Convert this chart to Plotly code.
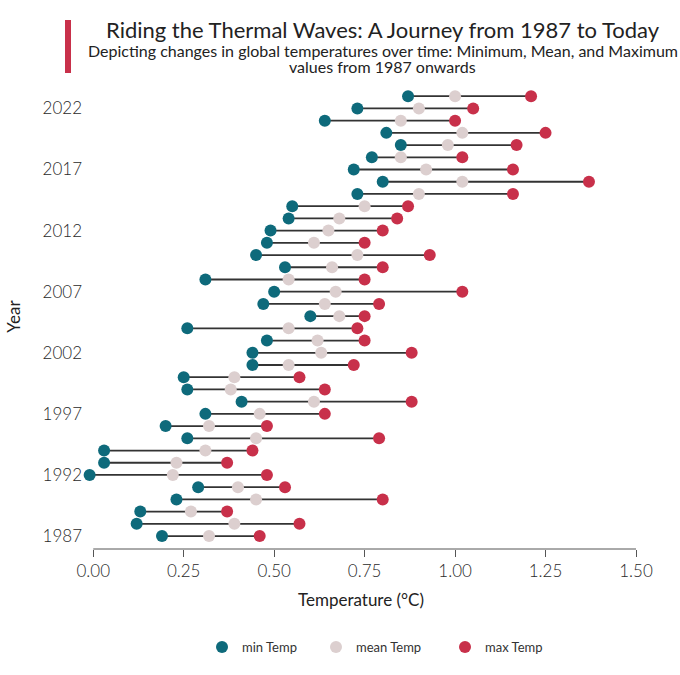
import plotly.graph_objects as go

years = list(range(1987, 2024))
min_temp = [0.19, 0.12, 0.13, 0.23, 0.29, -0.01, 0.03, 0.03, 0.26, 0.20,
            0.31, 0.41, 0.26, 0.25, 0.44, 0.44, 0.48, 0.26, 0.60, 0.47,
            0.50, 0.31, 0.53, 0.45, 0.48, 0.49, 0.54, 0.55, 0.73, 0.80,
            0.72, 0.77, 0.85, 0.81, 0.64, 0.73, 0.87]
mean_temp = [0.32, 0.39, 0.27, 0.45, 0.40, 0.22, 0.23, 0.31, 0.45, 0.32,
             0.46, 0.61, 0.38, 0.39, 0.54, 0.63, 0.62, 0.54, 0.68, 0.64,
             0.67, 0.54, 0.66, 0.73, 0.61, 0.65, 0.68, 0.75, 0.90, 1.02,
             0.92, 0.85, 0.98, 1.02, 0.85, 0.90, 1.00]
max_temp = [0.46, 0.57, 0.37, 0.80, 0.53, 0.48, 0.37, 0.44, 0.79, 0.48,
            0.64, 0.88, 0.64, 0.57, 0.72, 0.88, 0.75, 0.73, 0.75, 0.79,
            1.02, 0.75, 0.80, 0.93, 0.75, 0.80, 0.84, 0.87, 1.16, 1.37,
            1.16, 1.02, 1.17, 1.25, 1.00, 1.05, 1.21]
tick_years = [1987, 1992, 1997, 2002, 2007, 2012, 2017, 2022]
x_ticks = [0, 0.25, 0.5, 0.75, 1.0, 1.25, 1.5]
x_ticktext = ["0.00", "0.25", "0.50", "0.75", "1.00", "1.25", "1.50"]
series_names = ["min Temp", "mean Temp", "max Temp"]

c_min = "#0e6a7b"
c_mean = "#dccfcf"
c_max = "#c8304a"
font_fam = "Lato, 'Open Sans', sans-serif"

X0, X1 = -0.02, 1.5
L, T, B = 86, 84, 126
PW = 550
R = 680 - L - PW
PH = 675 - T - B

fig = go.Figure()

xs, ys = [], []
for y, a, b in zip(years, min_temp, max_temp):
    xs += [a, b, None]
    ys += [y, y, None]
fig.add_trace(go.Scatter(x=xs, y=ys, mode="lines",
                         line=dict(color="#333333", width=1.8),
                         showlegend=False, hoverinfo="skip"))

legend_ids = ["legend", "legend2", "legend3"]
legend_left_px = [202, 316, 445]
for name, vals, col, lg in zip(series_names, [min_temp, mean_temp, max_temp],
                               [c_min, c_mean, c_max], legend_ids):
    fig.add_trace(go.Scatter(x=vals, y=years, mode="markers", name=name,
                             marker=dict(color=col, size=12, line=dict(width=0)),
                             cliponaxis=False, legend=lg))

legend_common = dict(orientation="h", y=(549 - 647) / PH, yanchor="middle",
                     xanchor="left", bgcolor="rgba(0,0,0,0)",
                     font=dict(size=13, color="#333333", family=font_fam),
                     itemsizing="constant")

fig.update_layout(
    width=680, height=675,
    margin=dict(l=L, r=R, t=T, b=B, autoexpand=False),
    plot_bgcolor="white", paper_bgcolor="white",
    font=dict(family=font_fam, color="#333333"),
    showlegend=True,
    legend=dict(legend_common, x=(legend_left_px[0] - L) / PW),
    legend2=dict(legend_common, x=(legend_left_px[1] - L) / PW),
    legend3=dict(legend_common, x=(legend_left_px[2] - L) / PW),
    xaxis=dict(range=[X0, X1], tickvals=x_ticks, ticktext=x_ticktext,
               automargin=False,
               showgrid=False, zeroline=False, showline=False,
               ticks="outside", ticklen=7, tickcolor="#555555", tickwidth=1,
               tickfont=dict(size=17, color="#2a2a2a", weight=300),
               title=dict(text="Temperature (°C)",
                          font=dict(size=17, color="#222222"),
                          standoff=13)),
    yaxis=dict(range=[1985.94, 2024.0], tickvals=tick_years,
               automargin=False,
               showgrid=False, zeroline=False, showline=False, ticks="",
               ticklabelstandoff=3,
               tickfont=dict(size=17, color="#2a2a2a", weight=300),
               title=dict(text="Year", font=dict(size=17, color="#222222"),
                          standoff=17)),
)

# axis line spanning 0 to 1.5
fig.add_shape(type="line", xref="x", yref="paper", x0=0, x1=1.5, y0=0, y1=0,
              line=dict(color="#555555", width=1))

cx = (382.5 - L) / PW
def py(px):
    return 1.0 + (T - px) / PH

fig.add_annotation(text="Riding the Thermal Waves: A Journey from 1987 to Today",
                   xref="paper", yref="paper", x=cx, y=py(30),
                   yanchor="middle", xanchor="center", showarrow=False,
                   font=dict(size=22, color="#222222", family=font_fam))
fig.add_annotation(text="Depicting changes in global temperatures over time: Minimum, Mean, and Maximum",
                   xref="paper", yref="paper", x=cx, y=py(51),
                   yanchor="middle", xanchor="center", showarrow=False,
                   font=dict(size=16, color="#222222", family=font_fam))
fig.add_annotation(text="values from 1987 onwards",
                   xref="paper", yref="paper", x=cx, y=py(67),
                   yanchor="middle", xanchor="center", showarrow=False,
                   font=dict(size=16, color="#222222", family=font_fam))
fig.add_shape(type="rect", xref="paper", yref="paper",
              x0=(65 - L) / PW, x1=(71 - L) / PW,
              y0=py(73), y1=py(20),
              fillcolor="#c8304a", line=dict(width=0))

fig.write_html("out.html", config={"displayModeBar": False},
               post_script="document.body.style.margin='0';document.body.style.padding='0';")
